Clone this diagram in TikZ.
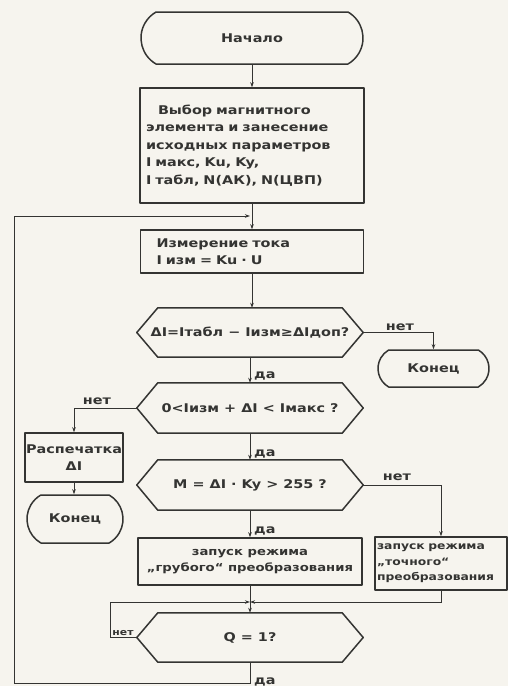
\documentclass[tikz,border=0pt]{standalone}
\usepackage{fontspec}
\setmainfont{DejaVu Sans}[FakeStretch=1.2]
\usetikzlibrary{shapes.misc,arrows.meta}
\definecolor{inkc}{RGB}{52,52,50}
\definecolor{paper}{RGB}{246,244,238}
\newcommand\hexdraw[1]{\draw[shapeline] (#1.west) -- ([xshift=21pt]#1.north west) -- ([xshift=-21pt]#1.north east) -- (#1.east) -- ([xshift=-21pt]#1.south east) -- ([xshift=21pt]#1.south west) -- cycle;}
\tikzset{
  txt/.style={font=\fontsize{12}{17.5}\selectfont\bfseries, text=inkc},
  smalltxt/.style={font=\fontsize{11}{16}\selectfont\bfseries},
  tinytxt/.style={font=\fontsize{10.3}{15.5}\selectfont\bfseries},
  shapeline/.style={draw=inkc, line width=1.5pt, line join=round},
  term/.style={rounded rectangle, rounded rectangle arc length=120, shapeline, txt, inner sep=0pt},
  proc/.style={rectangle, shapeline, txt, inner sep=0pt},
  hexbox/.style={rectangle, txt, inner sep=0pt},
  conn/.style={draw=inkc, line width=1pt, -{Stealth[length=5pt,width=3.5pt]}},
  lbl/.style={txt, inner sep=0pt},
}
\begin{document}
\begin{tikzpicture}[x=1pt,y=-1pt]
\fill[paper] (0,0) rectangle (508,686);
\useasboundingbox (0,0) rectangle (508,686);

% nodes
\node[term, minimum width=222pt, minimum height=52pt] (start) at (252,38) {Начало};
\node[proc, minimum width=224pt, minimum height=115pt, text width=212pt, align=left] (box1) at (252,145.5)
  {\hspace*{12pt}Выбор магнитного\\элемента и занесение\\исходных параметров\\I макс, Ku, Ky,\\I табл, N(АК), N(ЦВП)};
\node[proc, minimum width=223pt, minimum height=43pt, text width=191pt, align=left] (box2) at (252,251.5)
  {Измерение тока\\I изм = Ku · U};
\node[hexbox, minimum width=226pt, minimum height=49pt] (h1) at (250,332.5)
  {ΔI=Iтабл − Iизм≥ΔIдоп?};
\hexdraw{h1}
\node[term, minimum width=111pt, minimum height=37pt] (endR) at (433.5,368.5) {Конец};
\node[hexbox, minimum width=226pt, minimum height=50pt] (h2) at (250,408)
  {0<Iизм + ΔI < Iмакс ?};
\hexdraw{h2}
\node[proc, minimum width=98pt, minimum height=49pt, align=center] (print) at (74,457.5)
  {Распечатка\\ΔI};
\node[term, minimum width=96pt, minimum height=48pt] (endL) at (75,519) {Конец};
\node[hexbox, minimum width=226pt, minimum height=50pt] (h3) at (250,485)
  {M = ΔI · Ky > 255 ?};
\hexdraw{h3}
\node[proc, smalltxt, minimum width=224pt, minimum height=47pt, align=center] (box3) at (250,561.5)
  {запуск режима\\„грубого“ преобразования};
\node[proc, tinytxt, minimum width=132pt, minimum height=53pt, text width=128pt, align=left] (box4) at (441,563.5)
  {запуск режима\\„точного“\\преобразования};
\node[hexbox, minimum width=226pt, minimum height=49pt] (h4) at (250,637.5)
  {Q = 1?};
\hexdraw{h4}

% helper coordinates
\coordinate (join1) at (250,216);
\coordinate (merge) at (250,602);
\coordinate (q4left) at (110,637.5);
\coordinate (bot1) at (250,683);
\coordinate (bot2) at (14,683);
\coordinate (bot3) at (14,216);

% connectors
\draw[conn] (start.south) -- (start.south |- box1.north);
\draw[conn] (box1.south) -- (box1.south |- box2.north);
\draw[conn] (box2.south) -- (box2.south |- h1.north);
\draw[conn] (h1.east) -| (endR.north);
\draw[conn] (h1.south) -- (h2.north);
\draw[conn] (h2.west) -| (print.north);
\draw[conn] (print.south) -- (print.south |- endL.north);
\draw[conn] (h2.south) -- (h3.north);
\draw[conn] (h3.east) -| (box4.north);
\draw[conn] (h3.south) -- (box3.north);
\draw[conn] (box3.south) -- (h4.north);
\draw[conn] (box4.south) |- (merge);
\draw[conn] (h4.west) -- (q4left) |- (merge);
\draw[conn] (h4.south) -- (bot1) -- (bot2) -- (bot3) -- (join1);

% labels
\node[lbl, anchor=south west] (da1) at (254,380) {да};
\node[lbl, anchor=south west] (da2) at (254,458) {да};
\node[lbl, anchor=south west] (da3) at (254,535) {да};
\node[lbl, anchor=south west] (da4) at (254,686) {да};
\node[lbl, anchor=south] (net1) at (400,331) {нет};
\node[lbl, anchor=south] (net2) at (97,405) {нет};
\node[lbl, anchor=south] (net3) at (397,481) {нет};
\node[lbl, anchor=south, font=\fontsize{9}{9}\selectfont\bfseries] (net4) at (123,636) {нет};
\end{tikzpicture}
\end{document}
